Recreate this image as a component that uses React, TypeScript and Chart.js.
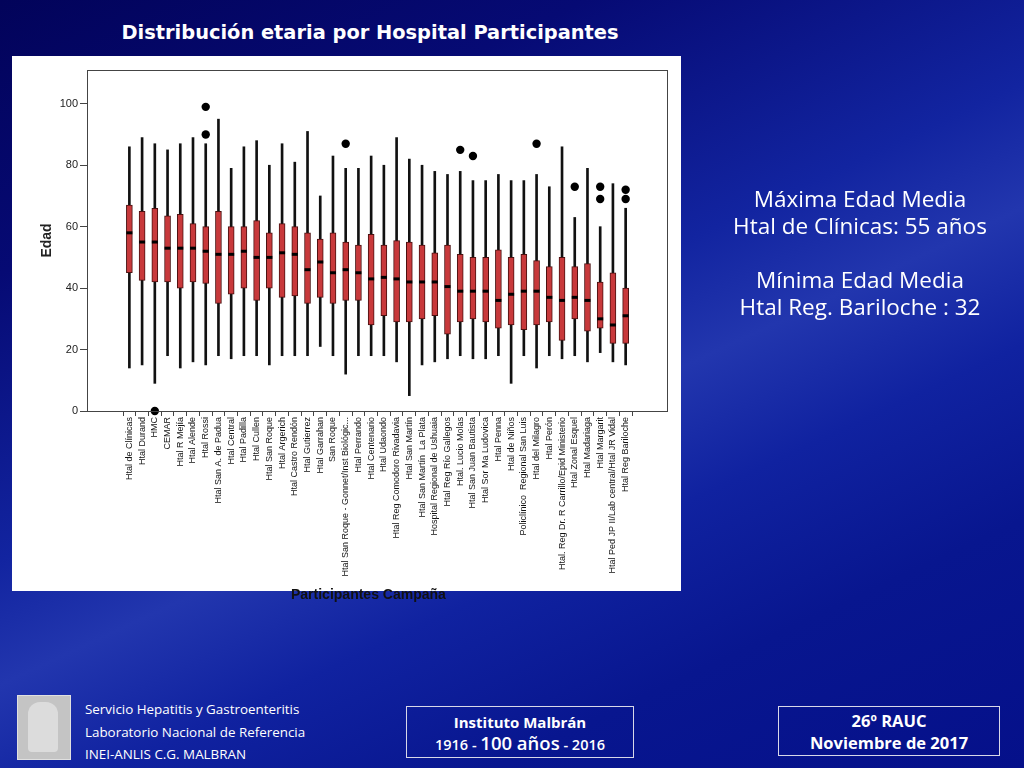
import React, { useEffect, useRef } from "react";
import { Chart, registerables } from "chart.js";

Chart.register(...registerables);

const categories = [
  "Htal de Clínicas",
  "Htal Durand",
  "HMC",
  "CEMAR",
  "Htal R Mejía",
  "Htal Alende",
  "Htal Rossi",
  "Htal San A. de Padua",
  "Htal Central",
  "Htal Padilla",
  "Htal Cullen",
  "Htal San Roque",
  "Htal Argerich",
  "Htal Castro Rendón",
  "Htal Gutierrez",
  "Htal Garrahan",
  "San Roque",
  "Htal San Roque - Gonnet/Inst Biológic...",
  "Htal Perrando",
  "Htal Centenario",
  "Htal Udaondo",
  "Htal Reg Comodoro Rivadavia",
  "Htal San Martín",
  "Htal San Martín  La Plata",
  "Hospital Regional de Ushuaia",
  "Htal Reg Río Gallegos",
  "Htal. Lucio Molas",
  "Htal San Juan Bautista",
  "Htal Sor Ma Ludovica",
  "Htal Penna",
  "Htal de Niños",
  "Policlínico  Regional San Luis",
  "Htal del Milagro",
  "Htal Perón",
  "Htal. Reg Dr. R Carrillo/Epid Ministerio",
  "Htal Zonal Esquel",
  "Htal Madariaga",
  "Htal Margarit",
  "Htal Ped JP II/Lab central/Htal JR Vidal",
  "Htal Reg Bariloche",
];

const whiskerLow = [14, 15, 9, 18, 14, 16, 15, 18, 17, 18, 18, 15, 18, 18, 18, 21, 18, 12, 18, 18, 18, 16, 5, 15, 16, 17, 18, 17, 17, 18, 9, 18, 14, 18, 17, 18, 16, 19, 16, 15];
const q1 = [45, 42.5, 42, 42, 40, 42, 41.5, 35, 38, 40, 36, 40, 37, 37.5, 35, 37, 35, 36, 36, 28, 31, 29, 29, 30, 31, 25, 29, 30, 29, 27, 28, 26.5, 28, 29, 23, 30, 26, 27, 22, 22];
const medians = [58, 55, 55, 53, 53, 53, 52, 51, 51, 52, 50, 50, 51.5, 51, 46, 48.5, 45, 46, 45, 43, 43.5, 43, 42, 42, 42, 40.5, 39, 39, 39, 36, 38, 39, 39, 37, 36, 37, 36, 30, 28, 31];
const q3 = [67, 65, 66, 63.5, 64, 61, 60, 65, 60, 60, 62, 58, 61, 60, 58, 56, 58, 55, 54, 57.5, 54, 55.5, 55, 54, 51.5, 54, 51, 50, 50, 52.5, 50, 51, 49, 47, 50, 47, 48, 42, 45, 40];
const whiskerHigh = [86, 89, 87, 85, 87, 89, 87, 95, 79, 86, 88, 80, 87, 81, 91, 70, 83, 79, 79, 83, 80, 89, 82, 80, 78, 77, 78, 75, 75, 77, 75, 75, 77, 73, 86, 63, 79, 60, 74, 66];
const outlierIndex = [2, 6, 6, 17, 26, 27, 32, 35, 37, 37, 39, 39];
const outlierValue = [0, 99, 90, 87, 85, 83, 87, 73, 73, 69, 72, 69];
const yTicks = [0, 20, 40, 60, 80, 100];

const BoxChart: React.FC = () => {
  const ref = useRef<HTMLCanvasElement | null>(null);

  useEffect(() => {
    if (!ref.current) return;
    const frame = {
      id: "frame",
      afterDraw(chart: any) {
        const { ctx, chartArea } = chart;
        ctx.save();
        ctx.strokeStyle = "#444";
        ctx.lineWidth = 1;
        ctx.strokeRect(
          Math.round(chartArea.left) + 0.5,
          Math.round(chartArea.top) + 0.5,
          Math.round(chartArea.right - chartArea.left),
          Math.round(chartArea.bottom - chartArea.top)
        );
        ctx.restore();
      },
    };

    const chart = new Chart(ref.current, {
      type: "bar",
      data: {
        datasets: [
          {
            type: "bar",
            label: "whisker",
            data: categories.map((_, i) => ({ x: i, y: [whiskerLow[i], whiskerHigh[i]] })) as any,
            backgroundColor: "#111",
            borderWidth: 0,
            barThickness: 2,
            grouped: false,
            order: 4,
          } as any,
          {
            type: "bar",
            label: "box",
            data: categories.map((_, i) => ({ x: i, y: [q1[i], q3[i]] })) as any,
            backgroundColor: "#c8393b",
            borderColor: "#4a1010",
            borderWidth: 1,
            borderSkipped: false,
            barThickness: 6,
            grouped: false,
            order: 3,
          } as any,
          {
            type: "line",
            label: "median",
            data: categories.map((_, i) => ({ x: i, y: medians[i] })),
            showLine: false,
            pointStyle: "line",
            pointRadius: 3,
            pointBorderWidth: 3,
            pointBorderColor: "#000",
            pointBackgroundColor: "#000",
            order: 2,
          } as any,
          {
            type: "line",
            label: "outliers",
            data: outlierIndex.map((idx, k) => ({ x: idx, y: outlierValue[k] })),
            showLine: false,
            pointStyle: "circle",
            pointRadius: 4.2,
            pointBorderWidth: 0,
            pointBackgroundColor: "#000",
            pointBorderColor: "#000",
            clip: false,
            order: 1,
          } as any,
        ],
      },
      options: {
        animation: false,
        responsive: true,
        maintainAspectRatio: false,
        devicePixelRatio: 1,
        layout: { padding: { left: 0, top: 14, right: 14, bottom: 0 } },
        plugins: {
          legend: { display: false },
          tooltip: { enabled: false },
        },
        scales: {
          x: {
            type: "linear",
            min: -2.76,
            max: 41.68,
            afterBuildTicks: (s: any) => {
              s.ticks = categories.map((_, i) => ({ value: i }));
            },
            afterFit: (s: any) => {
              s.height = 180;
            },
            ticks: {
              autoSkip: false,
              minRotation: 90,
              maxRotation: 90,
              padding: 1,
              color: "#111",
              font: { family: "'Liberation Sans', Arial, sans-serif", size: 9 },
              callback: (v: any) => categories[Math.round(Number(v))] ?? "",
            },
            grid: {
              display: true,
              drawOnChartArea: false,
              drawTicks: true,
              tickLength: 5,
              color: "#444",
            },
            border: { display: true, color: "#444", width: 1 },
          },
          y: {
            type: "linear",
            min: 0,
            max: 111,
            afterBuildTicks: (s: any) => {
              s.ticks = yTicks.map((v) => ({ value: v }));
            },
            afterFit: (s: any) => {
              s.width = 75;
            },
            ticks: {
              padding: 2,
              color: "#222",
              font: { family: "'Liberation Sans', Arial, sans-serif", size: 11 },
            },
            grid: {
              display: true,
              drawOnChartArea: false,
              drawTicks: true,
              tickLength: 7,
              color: "#444",
            },
            border: { display: true, color: "#444", width: 1 },
            title: {
              display: true,
              text: "Edad",
              color: "#222",
              padding: { top: 27, bottom: 0 },
              font: { family: "'Liberation Sans', Arial, sans-serif", size: 14, weight: "bold" },
            },
          },
        },
      },
      plugins: [frame],
    } as any);

    return () => chart.destroy();
  }, []);

  return <canvas ref={ref} style={{ width: "100%", height: "100%" }} />;
};

const App: React.FC = () => {
  const white = "#ffffff";
  const comic = "'Open Sans', 'Noto Sans', sans-serif";
  return (
    <div
      style={{
        position: "absolute",
        left: 0,
        top: 0,
        width: 1024,
        height: 768,
        overflow: "hidden",
        background:
          "linear-gradient(155deg, #02035a 0%, #060a74 22%, #1224a0 45%, #2236ae 55%, #1022a0 66%, #08168f 80%, #05108a 100%)",
        fontFamily: comic,
      }}
    >
      <div
        style={{
          position: "absolute",
          left: 0,
          top: 18,
          width: 740,
          textAlign: "center",
          color: white,
          fontFamily: "'DejaVu Sans', sans-serif",
          fontWeight: "bold",
          fontSize: 19.4,
          lineHeight: "30px",
          whiteSpace: "nowrap",
        }}
      >
        Distribución etaria por Hospital Participantes
      </div>

      <div
        style={{
          position: "absolute",
          left: 12,
          top: 56,
          width: 669,
          height: 535,
          background: white,
        }}
      >
        <BoxChart />
      </div>

      <div
        style={{
          position: "absolute",
          left: 291,
          top: 585,
          color: "#111",
          fontFamily: "'Liberation Sans', Arial, sans-serif",
          fontWeight: "bold",
          fontSize: 14,
          lineHeight: "18px",
          whiteSpace: "nowrap",
        }}
      >
        Participantes Campaña
      </div>

      <div
        style={{
          position: "absolute",
          left: 680,
          top: 185,
          width: 360,
          textAlign: "center",
          color: white,
          fontSize: 22.5,
          lineHeight: "27px",
          whiteSpace: "nowrap",
        }}
      >
        <div>Máxima Edad Media</div>
        <div>Htal de Clínicas: 55 años</div>
        <div style={{ height: 27 }} />
        <div>Mínima Edad Media</div>
        <div>Htal Reg. Bariloche : 32</div>
      </div>

      <div
        style={{
          position: "absolute",
          left: 17,
          top: 695,
          width: 52,
          height: 63,
          background: "#c4c4c4",
          border: "1px solid #e0e0e0",
        }}
      >
        <div
          style={{
            position: "absolute",
            left: 10,
            top: 6,
            width: 30,
            height: 50,
            background: "#dcdcdc",
            borderRadius: "12px 12px 4px 4px",
          }}
        />
      </div>

      <div
        style={{
          position: "absolute",
          left: 85,
          top: 698,
          color: white,
          fontSize: 13.4,
          lineHeight: "22.5px",
          whiteSpace: "nowrap",
        }}
      >
        <div>Servicio Hepatitis y Gastroenteritis</div>
        <div>Laboratorio Nacional de Referencia</div>
        <div>INEI-ANLIS C.G. MALBRAN</div>
      </div>

      <div
        style={{
          position: "absolute",
          left: 406,
          top: 706,
          width: 226,
          height: 50,
          border: "1px solid #d8d8e8",
          color: white,
          textAlign: "center",
          fontWeight: "bold",
          whiteSpace: "nowrap",
        }}
      >
        <div style={{ fontSize: 15, lineHeight: "20px", marginTop: 5 }}>Instituto Malbrán</div>
        <div style={{ fontSize: 14.5, lineHeight: "22px", fontWeight: 600 }}>
          1916 - <span style={{ fontSize: 18.5 }}>100 años</span> - 2016
        </div>
      </div>

      <div
        style={{
          position: "absolute",
          left: 778,
          top: 706,
          width: 220,
          height: 48,
          border: "1px solid #d8d8e8",
          color: white,
          textAlign: "center",
          fontWeight: "bold",
          fontSize: 16.5,
          lineHeight: "22px",
          whiteSpace: "nowrap",
        }}
      >
        <div style={{ marginTop: 3 }}>26º RAUC</div>
        <div>Noviembre de 2017</div>
      </div>
    </div>
  );
};

export default App;
